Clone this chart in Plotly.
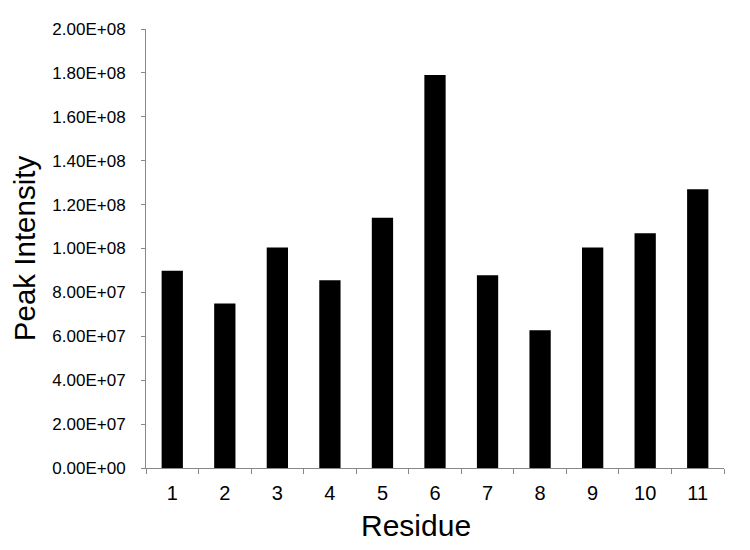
import plotly.graph_objects as go

residues = ["1", "2", "3", "4", "5", "6", "7", "8", "9", "10", "11"]
intensity = [8.99e7, 7.50e7, 1.005e8, 8.55e7, 1.14e8, 1.79e8, 8.78e7, 6.27e7, 1.005e8, 1.07e8, 1.27e8]
ytick_vals = [0, 2e7, 4e7, 6e7, 8e7, 1e8, 1.2e8, 1.4e8, 1.6e8, 1.8e8, 2e8]
ytick_text = ["0.00E+00", "2.00E+07", "4.00E+07", "6.00E+07", "8.00E+07", "1.00E+08",
              "1.20E+08", "1.40E+08", "1.60E+08", "1.80E+08", "2.00E+08"]

FONT = "Liberation Sans, Arial, sans-serif"

fig = go.Figure(go.Bar(x=residues, y=intensity, marker=dict(color="black", line=dict(width=0))))

fig.update_layout(
    width=750, height=550,
    margin=dict(l=138, r=34, t=21, b=90, autoexpand=False),
    paper_bgcolor="white", plot_bgcolor="white",
    bargap=0.595,
    showlegend=False,
    font=dict(family=FONT, color="black"),
    xaxis=dict(
        type="category", tickson="boundaries", ticks="outside", ticklen=5,
        tickcolor="#888", showline=True, linecolor="#888", linewidth=1,
        showgrid=False, zeroline=False, tickfont=dict(size=20, family=FONT),
        ticklabelstandoff=7,
    ),
    yaxis=dict(
        range=[0, 2e8], tickvals=ytick_vals, ticktext=ytick_text,
        ticks="outside", ticklen=4, tickcolor="#888", showline=True,
        linecolor="#888", linewidth=1, showgrid=False, zeroline=False,
        tickfont=dict(size=17, family=FONT), ticklabelstandoff=12,
        title=dict(text="Peak Intensity", standoff=16,
                   font=dict(size=29.5, family=FONT, color="black")),
        automargin=False,
    ),
    annotations=[
        dict(text="Residue", xref="paper", yref="paper", x=0.467, y=-0.131,
             xanchor="center", yanchor="middle", showarrow=False,
             font=dict(size=30, family=FONT, color="black")),
    ],
)

fig.write_html("out.html")
